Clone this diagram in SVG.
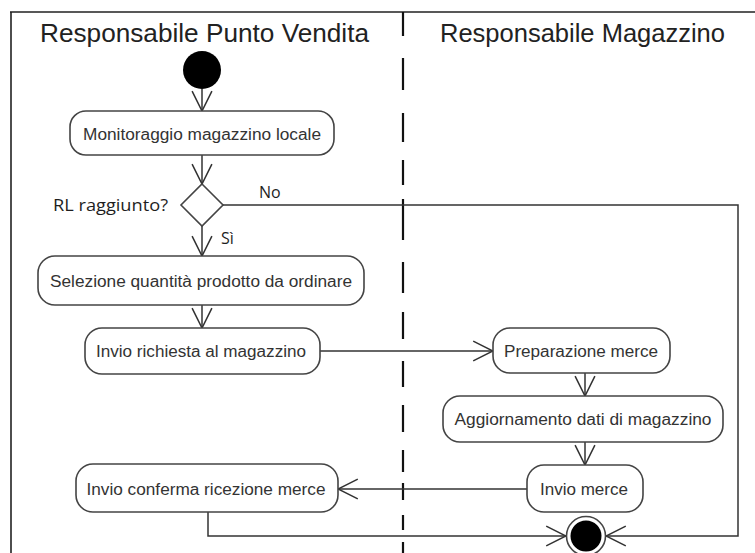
<svg xmlns="http://www.w3.org/2000/svg" width="755" height="553" viewBox="0 0 755 553">
  <defs>
    <marker id="open-arrow" markerUnits="userSpaceOnUse" markerWidth="22" markerHeight="22" viewBox="0 0 20 20" refX="19" refY="10" orient="auto">
      <path d="M1,1 L19,10 L1,19" fill="none" stroke="#333" stroke-width="1.4"/>
    </marker>
  </defs>
  <style>
    .frame { fill: none; stroke: #222; stroke-width: 1.6; }
    .lane { fill: none; stroke: #111; stroke-width: 2.2; }
    .title { font-family: "Liberation Sans", Arial, sans-serif; font-size: 25px; fill: #222; }
    .act { fill: #fff; stroke: #444; stroke-width: 1.6; }
    .label { font-family: "Liberation Sans", Arial, sans-serif; font-size: 16px; fill: #333; text-anchor: middle; dominant-baseline: central; }
    .guard { font-family: "Open Sans", "Liberation Sans", sans-serif; font-size: 16px; fill: #1e1e1e; }
    .edge { fill: none; stroke: #333; stroke-width: 1.5; }
    .arrow { marker-end: url(#open-arrow); }
  </style>

  <rect width="755" height="553" fill="#fff"/>

  <!-- frame and swimlanes -->
  <g id="frame">
    <path class="frame" d="M10,12 H755 M11,12 V553"/>
    <path class="lane" d="M403,12 V36 M403,58 V90 M403,113 V142 M403,160 V185 M403,199 V240 M403,262 V293 M403,312 V339 M403,361 V387 M403,405 V432 M403,450 V472 M403,483 V500 M403,515 V530 M403,542 V553"/>
    <text class="title" x="40" y="42" textLength="329" lengthAdjust="spacingAndGlyphs">Responsabile Punto Vendita</text>
    <text class="title" x="440" y="42" textLength="285" lengthAdjust="spacingAndGlyphs">Responsabile Magazzino</text>
  </g>

  <!-- connectors -->
  <g id="connectors">
    <path class="edge arrow" d="M202,89 V111"/>
    <path class="edge arrow" d="M202,155 V184"/>
    <path class="edge arrow" d="M202,226 V256"/>
    <path class="edge arrow" d="M202,305 V328"/>
    <path class="edge arrow" d="M320,351 H493"/>
    <path class="edge arrow" d="M585,373 V396"/>
    <path class="edge arrow" d="M585,442 V465"/>
    <path class="edge arrow" d="M527,489 H338"/>
    <path class="edge arrow" d="M208,512 V536 H566"/>
    <path class="edge arrow" d="M222,205 H738 V536 H606"/>
    <text class="guard" x="259" y="198">No</text>
    <text class="guard" x="221" y="244">Sì</text>
  </g>

  <!-- initial node -->
  <g id="start">
    <circle cx="202" cy="70" r="19" fill="#000"/>
  </g>

  <g id="monitoraggio">
    <rect class="act" x="70" y="111" width="264" height="44" rx="16"/>
    <text class="label" x="202" y="134" textLength="238" lengthAdjust="spacingAndGlyphs">Monitoraggio magazzino locale</text>
  </g>

  <g id="decisione">
    <path class="act" d="M202,184 L223,205 L202,226 L181,205 Z"/>
    <text class="guard" x="53" y="211" textLength="115" lengthAdjust="spacingAndGlyphs">RL raggiunto?</text>
  </g>

  <g id="selezione">
    <rect class="act" x="38" y="256" width="326" height="49" rx="17"/>
    <text class="label" x="201" y="281" textLength="302" lengthAdjust="spacingAndGlyphs">Selezione quantità prodotto da ordinare</text>
  </g>

  <g id="invio-richiesta">
    <rect class="act" x="85" y="328" width="235" height="46" rx="17"/>
    <text class="label" x="201" y="351" textLength="210" lengthAdjust="spacingAndGlyphs">Invio richiesta al magazzino</text>
  </g>

  <g id="preparazione">
    <rect class="act" x="493" y="328" width="177" height="45" rx="17"/>
    <text class="label" x="581" y="351" textLength="154" lengthAdjust="spacingAndGlyphs">Preparazione merce</text>
  </g>

  <g id="aggiornamento">
    <rect class="act" x="443" y="396" width="280" height="46" rx="17"/>
    <text class="label" x="583" y="419" textLength="257" lengthAdjust="spacingAndGlyphs">Aggiornamento dati di magazzino</text>
  </g>

  <g id="invio-merce">
    <rect class="act" x="527" y="465" width="116" height="47" rx="17"/>
    <text class="label" x="584" y="489" textLength="88" lengthAdjust="spacingAndGlyphs">Invio merce</text>
  </g>

  <g id="invio-conferma">
    <rect class="act" x="76" y="464" width="262" height="48" rx="17"/>
    <text class="label" x="206" y="489" textLength="239" lengthAdjust="spacingAndGlyphs">Invio conferma ricezione merce</text>
  </g>

  <!-- final node -->
  <g id="end">
    <circle cx="586" cy="536" r="19.5" fill="#fff" stroke="#444" stroke-width="1.6"/>
    <circle cx="586" cy="536" r="15.5" fill="#000"/>
  </g>
</svg>
